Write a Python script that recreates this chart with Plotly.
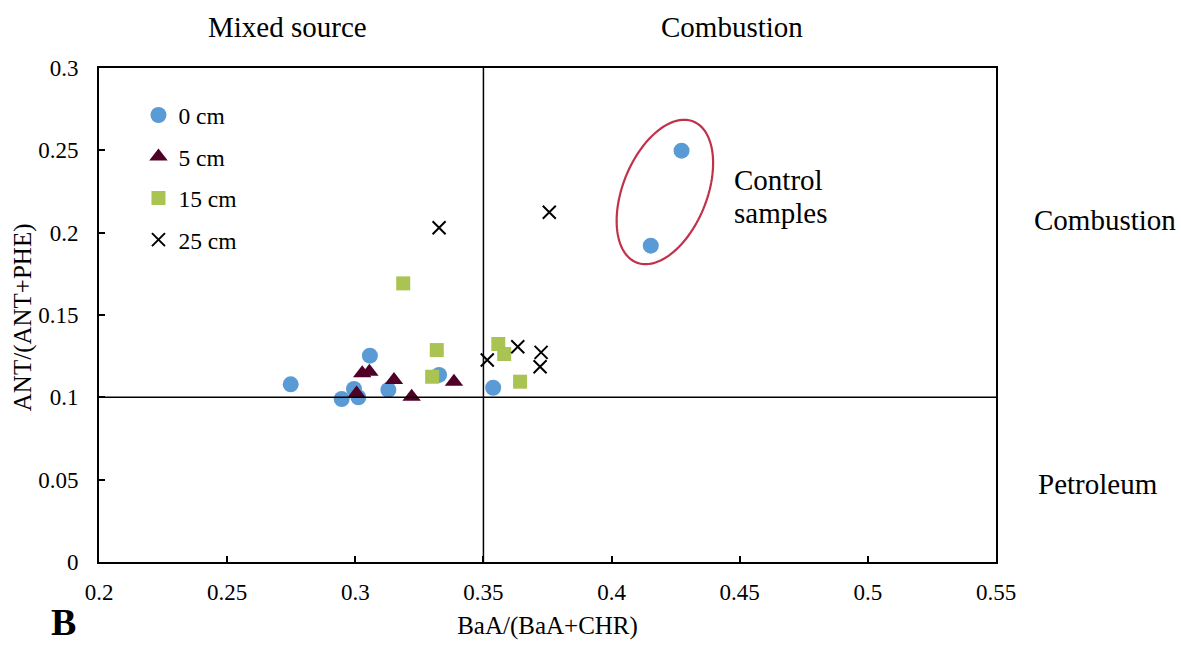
import numpy as np
import plotly.graph_objects as go

# Diagnostic ratios by sediment depth
x_0cm = [0.2748, 0.3057, 0.2947, 0.2995, 0.3012, 0.3129, 0.3327, 0.3538, 0.4273, 0.4153]
y_0cm = [0.1079, 0.1253, 0.0990, 0.1051, 0.1000, 0.1045, 0.1136, 0.1058, 0.2498, 0.1921]

x_5cm = [0.3027, 0.3055, 0.3005, 0.3151, 0.3220, 0.3385]
y_5cm = [0.1146, 0.1156, 0.1024, 0.1105, 0.1004, 0.1095]

x_15cm = [0.3318, 0.3300, 0.3558, 0.3581, 0.3643, 0.3187]
y_15cm = [0.1287, 0.1125, 0.1324, 0.1263, 0.1095, 0.1692]

x_25cm = [0.3327, 0.3757, 0.3515, 0.3634, 0.3725, 0.3721]
y_25cm = [0.2030, 0.2124, 0.1227, 0.1307, 0.1273, 0.1186]

x_ticks = [0.2, 0.25, 0.3, 0.35, 0.4, 0.45, 0.5, 0.55]
y_ticks = [0, 0.05, 0.1, 0.15, 0.2, 0.25, 0.3]

# Threshold values separating source regions
x_threshold = 0.35
y_threshold = 0.1

FONT = "Liberation Serif"
W, H = 1181, 648
L, R, T, B = 99, 185, 68, 86
X_RANGE = [0.2, 0.55]
Y_RANGE = [0, 0.3]
px_per_x = (W - L - R) / (X_RANGE[1] - X_RANGE[0])
px_per_y = (H - T - B) / (Y_RANGE[1] - Y_RANGE[0])

fig = go.Figure()

series = [
    ("0 cm", x_0cm, y_0cm, dict(symbol="circle", size=16, color="#5B9BD5")),
    ("5 cm", x_5cm, y_5cm, dict(symbol="triangle-up", size=16, color="#4F0027")),
    ("15 cm", x_15cm, y_15cm, dict(symbol="square", size=14, color="#A9C453")),
    ("25 cm", x_25cm, y_25cm, dict(symbol="x-thin", size=13, color="black",
                                   line=dict(color="black", width=2))),
]
for name, xs, ys, mk in series:
    fig.add_trace(go.Scatter(x=xs, y=ys, mode="markers", name=name,
                             marker=mk, legendgroup=name))

# Threshold lines
fig.add_shape(type="line", xref="x", yref="y", x0=x_threshold, x1=x_threshold,
              y0=Y_RANGE[0], y1=Y_RANGE[1], line=dict(color="black", width=1.5))
fig.add_shape(type="line", xref="x", yref="y", x0=X_RANGE[0], x1=X_RANGE[1],
              y0=y_threshold, y1=y_threshold, line=dict(color="black", width=1.5))

# Tilted ellipse around the control samples (built in pixel space, mapped to data units)
cx, cy = 0.4208, 0.2247
a_px, b_px, tilt = 76, 42, np.deg2rad(22)
t = np.linspace(0, 2 * np.pi, 120)
dx_px = a_px * np.cos(t) * np.sin(tilt) + b_px * np.sin(t) * np.cos(tilt)
dy_px = a_px * np.cos(t) * np.cos(tilt) - b_px * np.sin(t) * np.sin(tilt)
ex = cx + dx_px / px_per_x
ey = cy + dy_px / px_per_y
path = "M " + " L ".join(f"{a:.5f},{b:.5f}" for a, b in zip(ex, ey)) + " Z"
fig.add_shape(type="path", xref="x", yref="y", path=path,
              line=dict(color="#C0324A", width=2.2))

def label(text, x, y, size=29, xanchor="center", bold=False, angle=0):
    fig.add_annotation(text=f"<b>{text}</b>" if bold else text, x=x, y=y,
                       xref="paper", yref="paper", showarrow=False,
                       xanchor=xanchor, yanchor="middle", textangle=angle,
                       font=dict(family=FONT, size=size, color="black"))

label("Mixed source", 0.2107, 1.083)
label("Combustion", 0.7057, 1.083)
label("Combustion", 1.1215, 0.692)
label("Petroleum", 1.1137, 0.158)
label("Control", 0.7057, 0.774, xanchor="left")
label("samples", 0.7057, 0.707, xanchor="left")
label("B", -0.04, -0.122, size=38, bold=True)
# y-axis title placed close to the tick labels
label("ANT/(ANT+PHE)", -0.0845, 0.496, size=25, angle=-90)

axis_common = dict(showline=True, linecolor="black", linewidth=2, mirror=True,
                   showgrid=False, zeroline=False, ticks="inside", ticklen=6,
                   tickcolor="black", tickwidth=1.5,
                   tickfont=dict(family=FONT, size=23, color="black"))

fig.update_xaxes(range=X_RANGE, tickvals=x_ticks,
                 ticktext=[f"{v:g}" for v in x_ticks],
                 title=dict(text="BaA/(BaA+CHR)", standoff=13,
                            font=dict(family=FONT, size=25, color="black")),
                 ticklabelstandoff=8, **axis_common)
fig.update_yaxes(range=Y_RANGE, tickvals=y_ticks,
                 ticktext=[f"{v:g}" for v in y_ticks],
                 ticklabelstandoff=14, **axis_common)

fig.update_layout(
    width=W, height=H,
    margin=dict(l=L, r=R, t=T, b=B, pad=0),
    plot_bgcolor="white", paper_bgcolor="white",
    font=dict(family=FONT, color="black"),
    showlegend=True,
    legend=dict(x=0.044, y=0.949, xanchor="left", yanchor="top",
                bgcolor="rgba(0,0,0,0)", borderwidth=0,
                font=dict(family=FONT, size=23.5, color="black"),
                tracegroupgap=8, itemwidth=30),
)

fig.write_html("out.html")
